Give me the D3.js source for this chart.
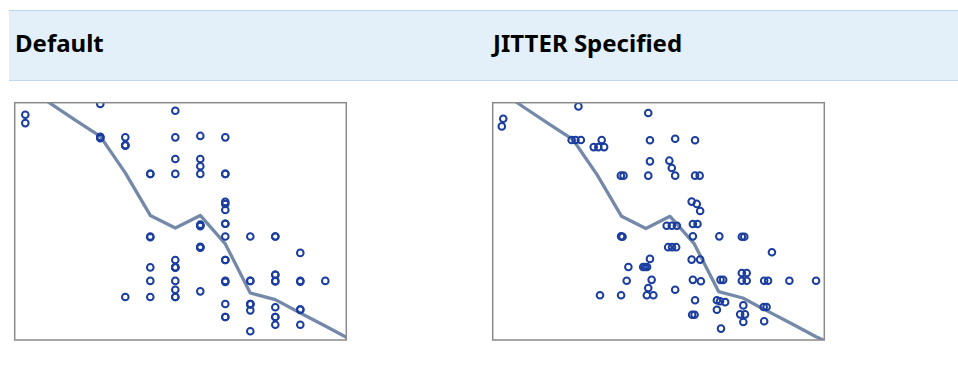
<!DOCTYPE html>
<html>
<head>
<meta charset="utf-8">
<script src="https://cdn.jsdelivr.net/npm/d3@7"></script>
<style>
  html, body { margin: 0; padding: 0; background: #ffffff; }
  svg { display: block; }
</style>
</head>
<body>
<svg id="chart" width="958" height="366"></svg>
<script>
// Panel headings
const panelTitles = ["Default", "JITTER Specified"];

// Observations: category (x) and response (y)
const obsX = [1, 1, 4, 4, 4, 4, 5, 5, 5, 5, 5, 6, 6, 6, 6, 6, 6, 6,
              7, 7, 7, 7, 7, 7, 7, 7, 7, 7, 7, 7,
              8, 8, 8, 8, 8, 8, 8, 8, 8, 8, 8,
              9, 9, 9, 9, 9, 9, 9, 9, 9, 9, 9, 9, 9, 9, 9, 9,
              10, 10, 10, 10, 10, 10, 10, 10,
              11, 11, 11, 11, 11, 11, 11, 11, 11, 11,
              12, 12, 12, 12, 12, 12, 13, 14];
const obsY = [94.9, 91.4, 99.5, 85.6, 85.0, 85.4, 85.4, 82.0, 82.0, 82.0, 18.1, 70.0, 70.0, 43.6, 43.3, 30.6, 24.9, 18.1,
              96.6, 85.4, 76.3, 70.0, 33.7, 30.6, 30.6, 30.6, 24.9, 21.2, 18.1, 18.1,
              86.0, 76.3, 73.2, 70.0, 48.6, 48.3, 48.0, 39.3, 39.1, 38.9, 20.5,
              85.4, 70.0, 70.0, 58.2, 57.3, 54.8, 49.0, 49.0, 43.6, 33.7, 33.7, 24.9, 24.5, 15.2, 9.7, 9.7,
              43.6, 24.9, 24.9, 15.2, 15.0, 15.2, 12.5, 3.7,
              43.6, 43.6, 27.5, 27.5, 24.9, 24.7, 13.8, 9.7, 9.7, 6.4,
              36.7, 24.9, 24.6, 12.8, 12.8, 6.4, 24.9, 24.9];

// Jitter displacements applied to the observations in the second panel
const jitterDx = [0.12, 0.06, 0.22, -0.06, 0.10, 0.32, 0.18, -0.15, 0.04, 0.28, 0.11, -0.03, 0.08, -0.02, 0.04, 0.28, 0.21, -0.02,
                  0.10, 0.17, 0.17, 0.10, 0.17, -0.11, -0.03, 0.05, 0.24, 0.10, 0.04, 0.31,
                  0.21, -0.03, 0.07, 0.21, -0.14, 0.07, 0.28, -0.08, 0.08, 0.25, 0.21,
                  0.03, 0.03, 0.22, -0.11, 0.10, 0.24, -0.06, 0.13, -0.06, -0.11, 0.24, -0.06, 0.27, 0.03, -0.09, 0.01,
                  0.03, 0.08, 0.19, -0.07, 0.06, 0.27, -0.07, 0.10,
                  -0.04, 0.06, -0.04, 0.16, -0.04, 0.16, 0.02, -0.11, 0.09, 0.02,
                  0.20, -0.12, 0.04, -0.14, -0.02, -0.12, -0.08, 0.02];
const jitterDy = [0.05, 0.2, 0.8, 0.1, 0.7, 0.3, 0.3, 0.6, 0.6, 0.6, 0.1, 0.2, 0.2, 0.2, 0.3, -0.1, -0.4, 0.1,
                  0.8, 0.2, 0.1, 0.2, 0.3, -0.1, -0.1, -0.1, 0.0, 0.15, 0.1, 0.1,
                  0.25, 0.4, 0.3, 0.2, -0.2, 0.1, 0.4, -0.2, 0.0, 0.2, 0.1,
                  0.2, 0.2, 0.2, 0.7, 0.6, 0.0, 0.2, 0.2, 0.2, 0.0, 0.0, 0.0, -0.2, 0.8, 0.0, 0.0,
                  0.2, 0.0, 0.0, 0.8, 0.6, 0.0, -0.6, 0.0,
                  0.0, 0.0, 0.4, 0.4, -0.4, -0.2, 0.0, 0.2, 0.2, 0.2,
                  0.2, -0.4, -0.1, 0.3, 0.3, 0.5, -0.4, -0.4];

// Fitted curve through the categories
const fitX = [1, 2, 3, 4, 5, 6, 7, 8, 9, 10, 11, 12, 13, 14, 15];
const fitY = [107.0, 99.7, 92.7, 85.8, 70.4, 52.5, 47.2, 52.5, 40.5, 19.8, 17.0, 11.4, 5.9, 0.3, -4.5];

// Axis ranges of the two panels (the jittered panel is padded slightly)
const defaultXDomain = [0.576, 13.84];
const defaultYDomain = [0, 100];
const jitterXDomain = [0.685, 14.36];
const jitterYDomain = [-1.25, 101.9];

const svg = d3.select("#chart");

// Heading band
svg.append("rect")
  .attr("x", 9).attr("y", 10).attr("width", 949).attr("height", 70)
  .attr("fill", "#e4f0f9");
svg.append("line").attr("x1", 9).attr("x2", 958).attr("y1", 10.5).attr("y2", 10.5)
  .attr("stroke", "#bcd8ee").attr("stroke-width", 1);
svg.append("line").attr("x1", 9).attr("x2", 958).attr("y1", 80.5).attr("y2", 80.5)
  .attr("stroke", "#bcd8ee").attr("stroke-width", 1);

const panels = [
  { title: panelTitles[0], titleX: 15, left: 14.7, xDomain: defaultXDomain, yDomain: defaultYDomain, jitter: false },
  { title: panelTitles[1], titleX: 493, left: 492.7, xDomain: jitterXDomain, yDomain: jitterYDomain, jitter: true }
];
const plotW = 331.6, plotTop = 102.7, plotBottom = 340;

panels.forEach((p, i) => {
  svg.append("text")
    .attr("x", p.titleX).attr("y", 52)
    .attr("font-family", "'Noto Sans', 'Open Sans', sans-serif")
    .attr("font-weight", "bold")
    .attr("font-size", 24)
    .attr("fill", "#000")
    .text(p.title);

  const x = d3.scaleLinear().domain(p.xDomain).range([p.left, p.left + plotW]);
  const y = d3.scaleLinear().domain(p.yDomain).range([plotBottom, plotTop]);

  const clipId = "clip" + i;
  svg.append("clipPath").attr("id", clipId)
    .append("rect")
    .attr("x", p.left).attr("y", plotTop)
    .attr("width", plotW).attr("height", plotBottom - plotTop);

  const g = svg.append("g").attr("clip-path", `url(#${clipId})`);

  const fit = fitX.map((d, j) => [d, fitY[j]]);
  g.append("path")
    .datum(fit)
    .attr("fill", "none")
    .attr("stroke", "#7489a9")
    .attr("stroke-width", 3.3)
    .attr("stroke-linejoin", "round")
    .attr("d", d3.line().x(d => x(d[0])).y(d => y(d[1])));

  const pts = obsX.map((d, j) => ({
    x: d + (p.jitter ? jitterDx[j] : 0),
    y: obsY[j] + (p.jitter ? jitterDy[j] : 0)
  }));
  g.selectAll("circle.pt")
    .data(pts)
    .join("circle")
    .attr("class", "pt")
    .attr("cx", d => x(d.x))
    .attr("cy", d => y(d.y))
    .attr("r", 3.3)
    .attr("fill", "none")
    .attr("stroke", "#1a3d9e")
    .attr("stroke-width", 2);

  svg.append("rect")
    .attr("x", p.left).attr("y", plotTop)
    .attr("width", plotW).attr("height", plotBottom - plotTop)
    .attr("fill", "none")
    .attr("stroke", "#8a8a8a")
    .attr("stroke-width", 1.5);
});
</script>
</body>
</html>
